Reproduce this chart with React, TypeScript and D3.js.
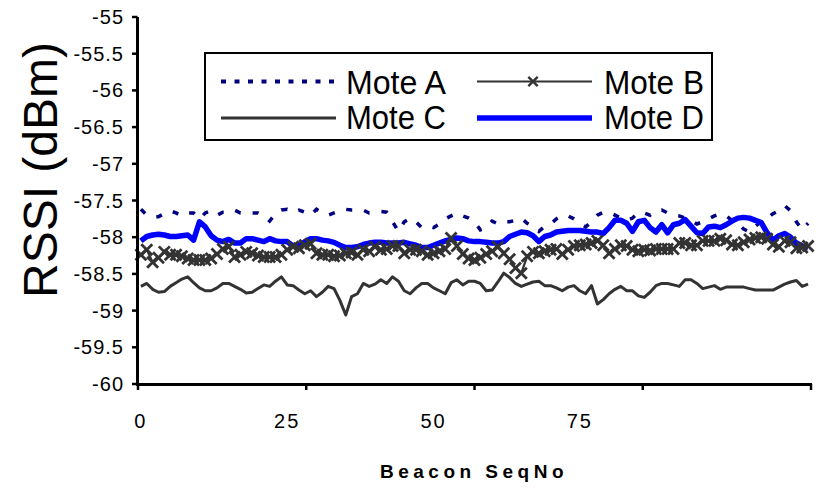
import React from "react";
import * as d3 from "d3";

const yTicks = [-55, -55.5, -56, -56.5, -57, -57.5, -58, -58.5, -59, -59.5, -60];
const yTickLabels = ["-55", "-55.5", "-56", "-56.5", "-57", "-57.5", "-58", "-58.5", "-59", "-59.5", "-60"];
const xLabelValues = [0, 25, 50, 75];
const xTickMarks = [0, 28.75, 57.5, 86.25, 115];
const categoryCount = 115;

const moteA = [
  -57.62, -57.70, -57.72, -57.72, -57.68, -57.64, -57.67, -57.71, -57.67, -57.67,
  -57.75, -57.67, -57.64, -57.70, -57.66, -57.66, -57.63, -57.67, -57.67, -57.67,
  -57.67, -57.71, -57.78, -57.68, -57.63, -57.62, -57.66, -57.63, -57.66, -57.70,
  -57.62, -57.67, -57.70, -57.67, -57.64, -57.62, -57.63, -57.63, -57.63, -57.67,
  -57.66, -57.65, -57.66, -57.79, -57.92, -57.79, -57.74, -57.79, -57.87, -57.85,
  -57.87, -57.82, -57.75, -57.71, -57.67, -57.71, -57.74, -57.79, -57.90, -57.87,
  -57.78, -57.82, -57.79, -57.79, -57.77, -57.74, -57.81, -57.85, -57.92, -57.85,
  -57.82, -57.75, -57.70, -57.71, -57.75, -57.81, -57.86, -57.79, -57.70, -57.66,
  -57.66, -57.70, -57.74, -57.77, -57.74, -57.66, -57.67, -57.70, -57.64, -57.63,
  -57.67, -57.70, -57.71, -57.74, -57.77, -57.82, -57.79, -57.75, -57.71, -57.68,
  -57.71, -57.77, -57.82, -57.89, -57.93, -57.85, -57.79, -57.74, -57.68, -57.64,
  -57.57, -57.64, -57.79, -57.90, -57.81,
];

const moteB = [
  -58.24, -58.17, -58.34, -58.28, -58.20, -58.24, -58.24, -58.26, -58.29, -58.31,
  -58.31, -58.31, -58.29, -58.23, -58.16, -58.13, -58.27, -58.24, -58.20, -58.22,
  -58.25, -58.27, -58.27, -58.27, -58.24, -58.17, -58.13, -58.15, -58.11, -58.09,
  -58.22, -58.24, -58.24, -58.26, -58.25, -58.22, -58.21, -58.24, -58.17, -58.19,
  -58.13, -58.17, -58.16, -58.12, -58.12, -58.22, -58.17, -58.17, -58.19, -58.24,
  -58.22, -58.19, -58.16, -58.01, -58.12, -58.23, -58.29, -58.31, -58.28, -58.23,
  -58.19, -58.13, -58.22, -58.30, -58.42, -58.49, -58.26, -58.20, -58.22, -58.19,
  -58.17, -58.16, -58.23, -58.17, -58.12, -58.11, -58.10, -58.08, -58.05, -58.11,
  -58.22, -58.16, -58.11, -58.12, -58.17, -58.19, -58.17, -58.18, -58.16, -58.16,
  -58.16, -58.16, -58.08, -58.08, -58.11, -58.11, -58.05, -58.05, -58.05, -58.02,
  -58.04, -58.10, -58.11, -58.07, -58.03, -58.01, -58.00, -58.02, -58.10, -58.13,
  -58.05, -58.07, -58.15, -58.14, -58.12,
];

const moteC = [
  -58.67, -58.63, -58.71, -58.75, -58.74, -58.67, -58.62, -58.57, -58.54, -58.62,
  -58.69, -58.73, -58.73, -58.69, -58.63, -58.63, -58.67, -58.71, -58.76, -58.75,
  -58.70, -58.65, -58.67, -58.60, -58.54, -58.65, -58.66, -58.72, -58.77, -58.73,
  -58.81, -58.75, -58.67, -58.70, -58.86, -59.06, -58.81, -58.77, -58.63, -58.67,
  -58.64, -58.58, -58.63, -58.54, -58.60, -58.73, -58.77, -58.69, -58.63, -58.63,
  -58.69, -58.73, -58.77, -58.62, -58.58, -58.65, -58.60, -58.60, -58.63, -58.73,
  -58.72, -58.61, -58.49, -58.55, -58.63, -58.67, -58.64, -58.61, -58.60, -58.66,
  -58.66, -58.69, -58.73, -58.68, -58.66, -58.73, -58.77, -58.66, -58.91, -58.85,
  -58.77, -58.71, -58.67, -58.73, -58.73, -58.80, -58.82, -58.75, -58.66, -58.63,
  -58.63, -58.65, -58.67, -58.58, -58.58, -58.63, -58.70, -58.68, -58.66, -58.71,
  -58.68, -58.68, -58.68, -58.68, -58.70, -58.72, -58.72, -58.72, -58.72, -58.68,
  -58.64, -58.61, -58.59, -58.67, -58.64,
];

const moteD = [
  -58.05, -57.99, -57.97, -57.96, -57.97, -57.99, -57.99, -57.98, -57.97, -58.04,
  -57.79, -57.86, -57.98, -58.04, -58.06, -58.03, -58.08, -58.08, -58.02, -58.02,
  -58.04, -58.06, -58.02, -58.05, -58.06, -58.06, -58.12, -58.12, -58.06, -58.02,
  -58.02, -58.04, -58.05, -58.07, -58.11, -58.14, -58.14, -58.13, -58.10, -58.08,
  -58.07, -58.07, -58.08, -58.08, -58.08, -58.07, -58.09, -58.11, -58.14, -58.14,
  -58.11, -58.08, -58.05, -58.03, -58.01, -58.02, -58.05, -58.06, -58.06, -58.07,
  -58.08, -58.08, -58.06, -57.99, -57.96, -57.93, -57.94, -57.98, -58.06, -57.99,
  -57.97, -57.93, -57.92, -57.91, -57.91, -57.91, -57.92, -57.93, -57.93, -57.95,
  -57.87, -57.77, -57.77, -57.81, -57.92, -57.79, -57.77, -57.87, -57.93, -57.83,
  -57.94, -57.83, -57.81, -57.76, -57.85, -57.94, -57.95, -57.86, -57.85, -57.87,
  -57.83, -57.78, -57.74, -57.73, -57.74, -57.77, -57.80, -57.94, -58.04, -57.98,
  -57.95, -58.00, -58.08, -58.12, -58.15,
];

const W = 816;
const H = 491;

export default function App() {
  const x = d3.scaleLinear().domain([0, categoryCount]).range([138, 811]);
  const y = d3.scaleLinear().domain([-60, -55]).range([384, 17]);

  const line = d3
    .line<number>()
    .x((_, i) => x(i + 0.5))
    .y((d) => y(d));

  const xMark = "M-5.5,-5.5L5.5,5.5M-5.5,5.5L5.5,-5.5";
  const font = "'Liberation Sans', Arial, sans-serif";

  const legendText = (label: string, lx: number, ly: number) => (
    <text
      x={lx}
      y={ly}
      fontFamily={font}
      fontSize={33}
      textLength={100}
      lengthAdjust="spacingAndGlyphs"
      fill="#000"
    >
      {label}
    </text>
  );

  return (
    <svg
      width={W}
      height={H}
      style={{ position: "fixed", left: 0, top: 0, background: "#fff" }}
    >
      <rect x={0} y={0} width={W} height={H} fill="#fff" />

      {/* series */}
      <path
        d={line(moteA) || ""}
        fill="none"
        stroke="#000080"
        strokeWidth={3.5}
        strokeDasharray="6,12"
      />
      <path d={line(moteC) || ""} fill="none" stroke="#333333" strokeWidth={3} strokeLinejoin="round" />
      <path d={line(moteD) || ""} fill="none" stroke="#0000FF" strokeWidth={5.5} strokeLinejoin="round" />
      <path d={line(moteB) || ""} fill="none" stroke="#333333" strokeWidth={2.2} />
      {moteB.map((v, i) => (
        <path
          key={i}
          d={xMark}
          transform={`translate(${x(i + 0.5)},${y(v)})`}
          stroke="#333333"
          strokeWidth={2.8}
          fill="none"
        />
      ))}

      {/* y axis */}
      <line x1={137.5} x2={137.5} y1={y(-55)} y2={y(-60) + 1.5} stroke="#000" strokeWidth={3} />
      {yTicks.map((t, i) => (
        <g key={t}>
          <line x1={132} x2={137.5} y1={y(t)} y2={y(t)} stroke="#000" strokeWidth={2.5} />
          <text
            x={124}
            y={y(t)}
            dy="0.35em"
            textAnchor="end"
            fontFamily={font}
            fontSize={20}
            letterSpacing={1}
            fill="#000"
          >
            {yTickLabels[i]}
          </text>
        </g>
      ))}

      {/* x axis */}
      <line x1={136} x2={812} y1={384.5} y2={384.5} stroke="#000" strokeWidth={3} />
      {xTickMarks.map((t) => (
        <line key={t} x1={x(t)} x2={x(t)} y1={384} y2={390} stroke="#000" strokeWidth={2.5} />
      ))}
      {xLabelValues.map((v) => (
        <text
          key={v}
          x={x(v + 0.5)}
          y={428}
          textAnchor="middle"
          fontFamily={font}
          fontSize={20}
          letterSpacing={2}
          fill="#000"
        >
          {v}
        </text>
      ))}

      {/* axis titles */}
      <text
        transform="translate(57,170) rotate(-90)"
        textAnchor="middle"
        fontFamily={font}
        fontSize={48}
        fill="#000"
      >
        RSSI (dBm)
      </text>
      <text
        x={474}
        y={478}
        textAnchor="middle"
        fontFamily={font}
        fontSize={19}
        fontWeight="bold"
        letterSpacing={4.5}
        fill="#000"
      >
        Beacon SeqNo
      </text>

      {/* legend */}
      <rect x={205} y={53} width={507} height={87} fill="#fff" stroke="#000" strokeWidth={2} />
      <line x1={221} x2={336} y1={81.5} y2={81.5} stroke="#000080" strokeWidth={4} strokeDasharray="5,8.5" />
      {legendText("Mote A", 346, 94)}
      <line x1={477} x2={592} y1={81.5} y2={81.5} stroke="#333333" strokeWidth={2.2} />
      <path d={xMark} transform="translate(533,81.5) scale(0.85)" stroke="#333333" strokeWidth={2.8} fill="none" />
      {legendText("Mote B", 604, 94)}
      <line x1={221} x2={336} y1={118} y2={118} stroke="#333333" strokeWidth={3} />
      {legendText("Mote C", 346, 129)}
      <line x1={477} x2={592} y1={118} y2={118} stroke="#0000FF" strokeWidth={5.5} />
      {legendText("Mote D", 604, 129)}
    </svg>
  );
}
